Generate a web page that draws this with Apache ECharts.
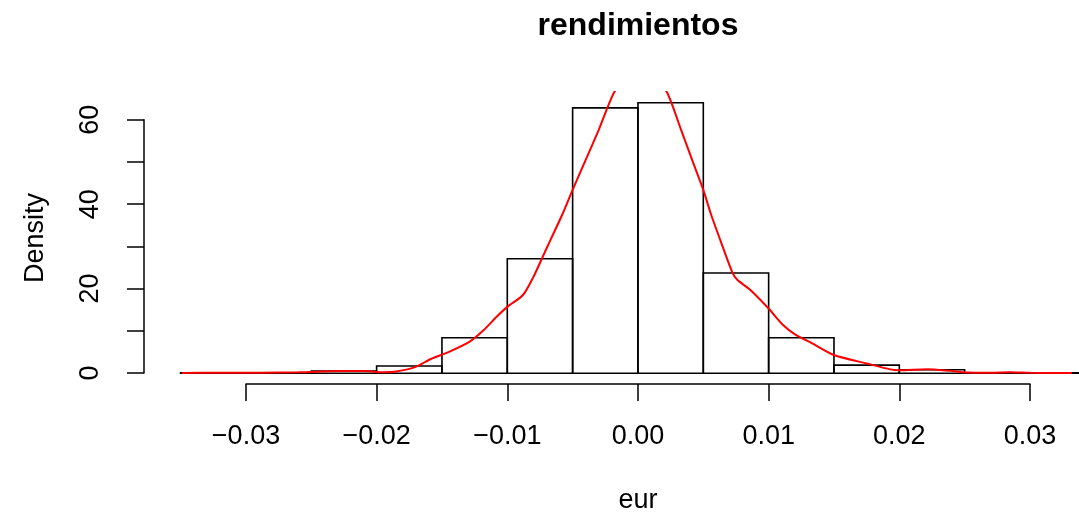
<!DOCTYPE html>
<html>
<head>
<meta charset="utf-8">
<script src="https://cdn.jsdelivr.net/npm/echarts@6/dist/echarts.min.js"></script>
<style>
  html, body { margin: 0; padding: 0; background: #fff; }
  #chart { width: 1079px; height: 516px; }
</style>
</head>
<body>
<div id="chart"></div>
<script>
// Histogram of eur returns (density scale) with a kernel density estimate on top
const breaks = [-0.035, -0.030, -0.025, -0.020, -0.015, -0.010, -0.005, 0.000,
                0.005, 0.010, 0.015, 0.020, 0.025, 0.030, 0.035];
const density = [0.1, 0.1, 0.5, 1.7, 8.4, 27.1, 62.8, 64.0, 23.7, 8.4, 1.9, 0.8, 0.1, 0.1];

// kernel density curve
const kdeX = [-0.0349, -0.032, -0.029, -0.026, -0.0245, -0.0225, -0.021, -0.0195, -0.0185,
              -0.017, -0.0159, -0.0145, -0.0129, -0.0118, -0.0108, -0.0100, -0.0088, -0.0080,
              -0.0074, -0.0067, -0.0058, -0.0050, -0.0040, -0.0030, -0.0018, -0.0008, 0.0002,
              0.0012, 0.0022, 0.0033, 0.0042, 0.0050, 0.0056, 0.0063, 0.0072, 0.0076, 0.0086,
              0.0100, 0.0111, 0.0121, 0.0132, 0.0150, 0.0175, 0.0193, 0.0200, 0.0221, 0.0239,
              0.0252, 0.0270, 0.0285, 0.0300, 0.0332];
const kdeY = [0.05, 0.1, 0.1, 0.2, 0.35, 0.5, 0.5, 0.2, 0.4,
              1.5, 3.3, 5.0, 7.4, 10.2, 13.4, 15.7, 18.5, 22.8,
              26.8, 31.5, 37.5, 43.4, 50.5, 57.6, 66.6, 70.0, 71.0,
              70.0, 66.6, 57.6, 50.0, 43.4, 37.5, 31.5, 24.0, 22.1, 19.7,
              15.3, 11.4, 9.0, 7.3, 4.3, 2.3, 0.9, 0.7, 0.95, 0.55,
              0.15, 0.1, 0.2, 0.1, 0.05];

const xTicks = [-0.03, 0.03];
const yTicks = [0, 60];

const FONT = 'Liberation Sans, Arial, Helvetica, sans-serif';

const bars = density.map((d, i) => [breaks[i], breaks[i + 1], d]);
const kde = kdeX.map((x, i) => [x, kdeY[i]]);

const chart = echarts.init(document.getElementById('chart'), null, { renderer: 'canvas' });

const fmtX = v => {
  if (Math.abs(v) < 1e-9) return '0.00';
  const s = Math.abs(v).toFixed(2);
  return v < 0 ? '\u2212' + s : s;
};

chart.setOption({
  animation: false,
  backgroundColor: '#ffffff',
  grid: [
    // plotting region
    { left: 144, right: 0, top: 92, bottom: 132 },
    // bottom axis (labelled range only)
    { left: 246, right: 49, top: 92, bottom: 132 },
    // left axis (labelled range only)
    { left: 144, right: 0, top: 119.7, bottom: 143 }
  ],
  xAxis: [
    { gridIndex: 0, type: 'value', min: -0.0378, max: 0.03375, show: false },
    {
      gridIndex: 1, type: 'value', min: xTicks[0], max: xTicks[1], interval: 0.01,
      axisLine: { show: true, lineStyle: { color: '#000', width: 1.5 } },
      axisTick: { show: true, length: 17, inside: false, lineStyle: { color: '#000', width: 1.5 } },
      axisLabel: { color: '#000', fontSize: 27, fontFamily: FONT, margin: 39, formatter: fmtX },
      splitLine: { show: false }
    },
    { gridIndex: 2, type: 'value', min: 0, max: 1, show: false }
  ],
  yAxis: [
    { gridIndex: 0, type: 'value', min: -2.56, max: 66.56, show: false },
    { gridIndex: 1, type: 'value', min: 0, max: 1, show: false },
    {
      gridIndex: 2, type: 'value', min: yTicks[0], max: yTicks[1], interval: 10,
      axisLine: { show: true, lineStyle: { color: '#000', width: 1.5 } },
      axisTick: { show: true, length: 17, inside: false, lineStyle: { color: '#000', width: 1.5 } },
      axisLabel: {
        color: '#000', fontSize: 27, fontFamily: FONT, margin: 40, rotate: 90,
        formatter: v => (Math.round(v) % 20 === 0 ? String(Math.round(v)) : '')
      },
      splitLine: { show: false }
    }
  ],
  graphic: [
    {
      type: 'text', x: 638, y: 26,
      style: { text: 'rendimientos', font: 'bold 32px ' + FONT, fill: '#000',
               textAlign: 'center', textVerticalAlign: 'middle' }
    },
    {
      type: 'text', x: 638, y: 501,
      style: { text: 'eur', font: '27px ' + FONT, fill: '#000',
               textAlign: 'center', textVerticalAlign: 'middle' }
    },
    {
      type: 'text', x: 36, y: 238, rotation: Math.PI / 2,
      style: { text: 'Density', font: '27px ' + FONT, fill: '#000',
               textAlign: 'center', textVerticalAlign: 'middle' }
    }
  ],
  series: [
    {
      type: 'custom',
      xAxisIndex: 0, yAxisIndex: 0,
      data: bars,
      encode: { x: [0, 1], y: 2 },
      renderItem: function (params, api) {
        const top = api.coord([api.value(0), api.value(2)]);
        const bot = api.coord([api.value(1), 0]);
        const cs = params.coordSys;
        const shape = echarts.graphic.clipRectByRect(
          { x: top[0], y: top[1], width: bot[0] - top[0], height: bot[1] - top[1] },
          { x: cs.x, y: cs.y, width: cs.width, height: cs.height }
        );
        if (!shape) return null;
        return {
          type: 'rect',
          shape: shape,
          style: { fill: 'transparent', stroke: '#000', lineWidth: 1.6 }
        };
      }
    },
    {
      type: 'line',
      xAxisIndex: 0, yAxisIndex: 0,
      data: kde,
      smooth: 0.25,
      showSymbol: false,
      clip: true,
      lineStyle: { color: '#ff0000', width: 2 },
      z: 5
    }
  ]
});
</script>
</body>
</html>
